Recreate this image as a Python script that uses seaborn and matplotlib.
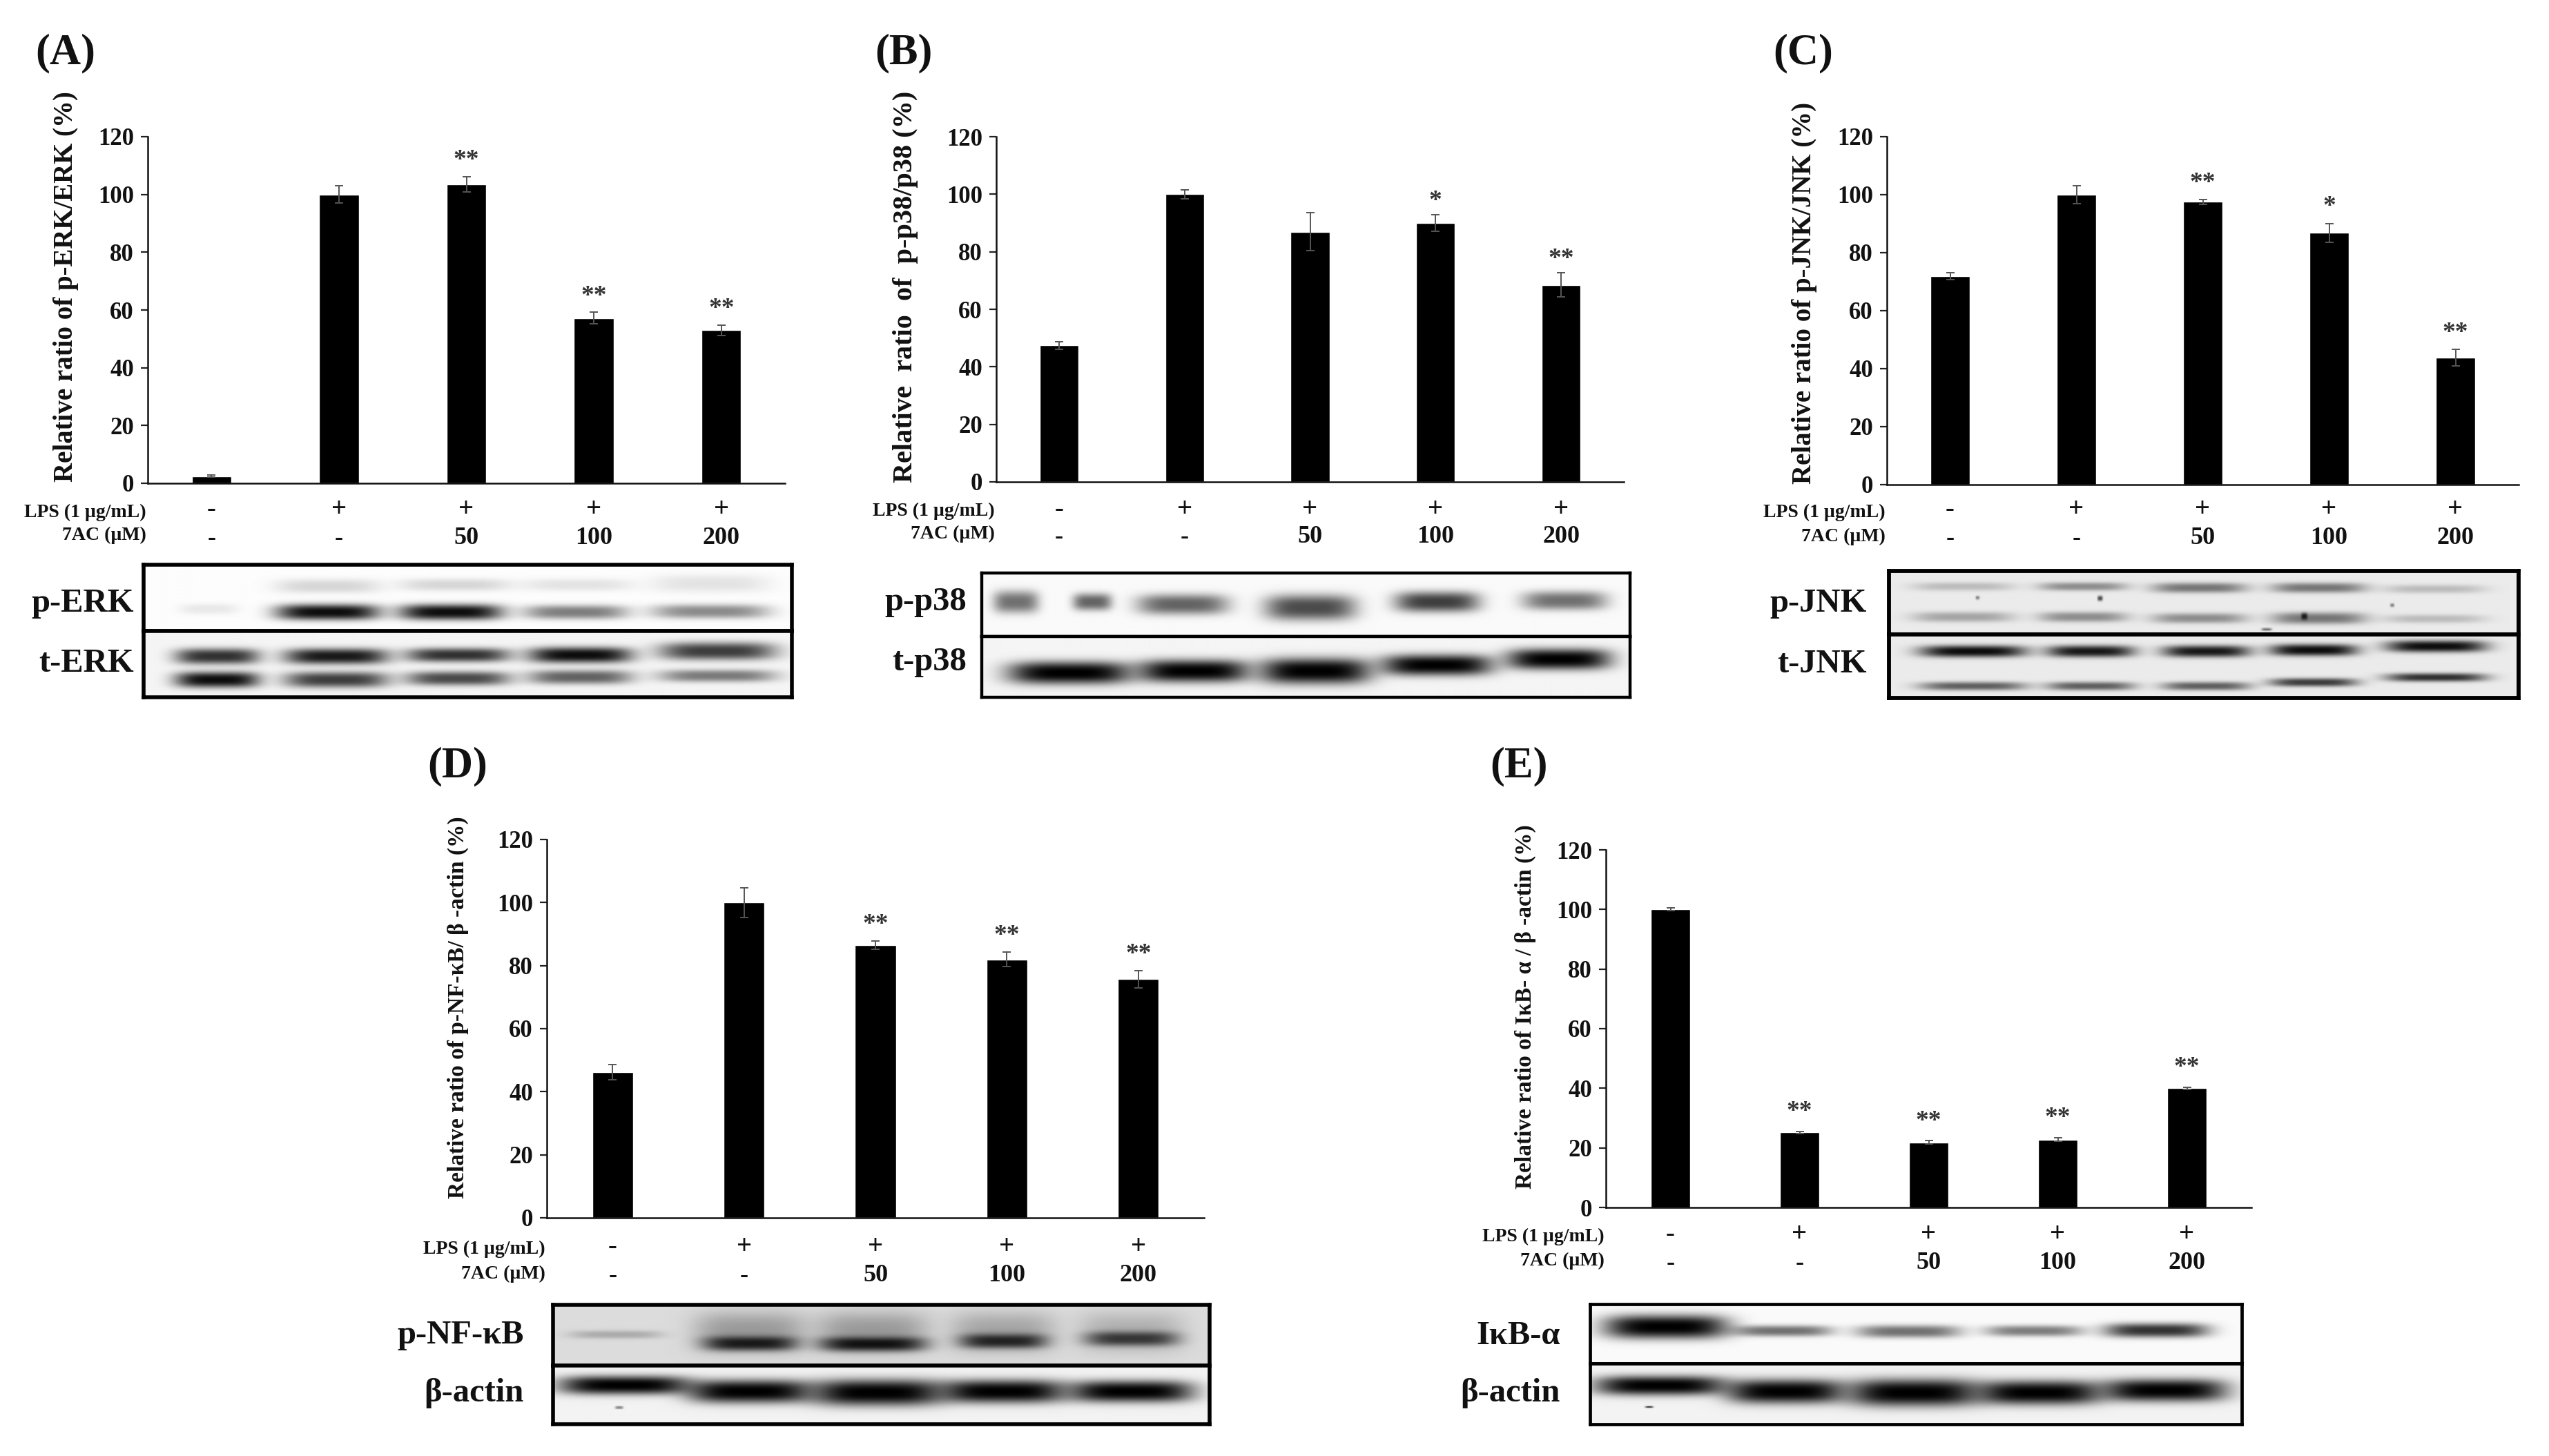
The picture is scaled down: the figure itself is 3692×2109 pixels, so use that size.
import numpy as np
import pandas as pd
import matplotlib
matplotlib.use("Agg")
import matplotlib.pyplot as plt
import seaborn as sns

# chart values
groups = ["control", "LPS", "7AC 50", "7AC 100", "7AC 200"]
lps_row = ["-", "+", "+", "+", "+"]
ac_row = ["-", "-", "50", "100", "200"]
y_ticks = [0, 20, 40, 60, 80, 100, 120]

erk_vals = [2.5, 100, 103.5, 57.2, 53]
erk_err = [0.3, 3, 2.7, 2, 1.8]
erk_stars = ["", "", "**", "**", "**"]

p38_vals = [47.5, 100, 87, 90, 68.5]
p38_err = [1.3, 1.5, 6.5, 2.8, 4.2]
p38_stars = ["", "", "", "*", "**"]

jnk_vals = [72, 100, 97.5, 86.8, 43.8]
jnk_err = [1.2, 3, 0.8, 3.2, 2.8]
jnk_stars = ["", "", "**", "*", "**"]

nfkb_vals = [46.3, 100, 86.5, 82, 75.7]
nfkb_err = [2.4, 4.7, 1.4, 2.4, 2.8]
nfkb_stars = ["", "", "**", "**", "**"]

ikb_vals = [100, 25.2, 21.8, 22.8, 40]
ikb_err = [0.5, 0.3, 0.6, 0.6, 0.4]
ikb_stars = ["", "**", "**", "**", "**"]

# blot bands: lane x, y, half width, half height, darkness (fractions of the strip)
p_erk = [(0.10, 0.67, 0.045, 0.06, 0.08), (0.284, 0.72, 0.08, 0.09, 0.95), (0.474, 0.72, 0.08, 0.09, 0.95),
         (0.667, 0.72, 0.08, 0.08, 0.5), (0.875, 0.71, 0.09, 0.08, 0.45), (0.284, 0.32, 0.08, 0.08, 0.15),
         (0.48, 0.30, 0.085, 0.07, 0.15), (0.67, 0.30, 0.085, 0.07, 0.1), (0.875, 0.28, 0.09, 0.1, 0.1)]
t_erk = [(0.113, 0.38, 0.065, 0.09, 0.8), (0.297, 0.38, 0.08, 0.09, 0.9), (0.485, 0.36, 0.08, 0.08, 0.8),
         (0.674, 0.36, 0.08, 0.09, 0.95), (0.886, 0.30, 0.09, 0.1, 0.75), (0.113, 0.74, 0.065, 0.09, 0.95),
         (0.297, 0.74, 0.08, 0.09, 0.75), (0.485, 0.72, 0.08, 0.08, 0.7), (0.674, 0.70, 0.08, 0.08, 0.6),
         (0.886, 0.68, 0.09, 0.07, 0.5)]
p_p38 = [(0.052, 0.46, 0.035, 0.13, 0.55), (0.17, 0.46, 0.03, 0.10, 0.6), (0.31, 0.50, 0.07, 0.12, 0.6),
         (0.507, 0.55, 0.07, 0.15, 0.7), (0.703, 0.46, 0.065, 0.12, 0.75), (0.90, 0.44, 0.065, 0.11, 0.55)]
t_p38 = [(0.135, 0.60, 0.095, 0.14, 1), (0.327, 0.57, 0.085, 0.14, 1), (0.515, 0.57, 0.085, 0.16, 1),
         (0.703, 0.47, 0.085, 0.13, 1), (0.891, 0.37, 0.08, 0.13, 1)]
p_jnk = [(0.117, 0.24, 0.08, 0.05, 0.2), (0.308, 0.24, 0.07, 0.05, 0.4), (0.493, 0.26, 0.075, 0.06, 0.5),
         (0.683, 0.26, 0.075, 0.06, 0.5), (0.867, 0.28, 0.08, 0.05, 0.2), (0.117, 0.73, 0.08, 0.06, 0.3),
         (0.308, 0.73, 0.07, 0.06, 0.4), (0.493, 0.75, 0.075, 0.06, 0.4), (0.683, 0.75, 0.075, 0.07, 0.5),
         (0.867, 0.76, 0.08, 0.05, 0.2), (0.14, 0.42, 0.003, 0.02, 0.5), (0.335, 0.43, 0.004, 0.03, 0.7),
         (0.66, 0.72, 0.005, 0.04, 0.8), (0.80, 0.54, 0.003, 0.02, 0.5), (0.60, 0.93, 0.008, 0.015, 0.6)]
t_jnk = [(0.133, 0.26, 0.085, 0.07, 0.95), (0.32, 0.26, 0.07, 0.07, 0.9), (0.504, 0.26, 0.07, 0.07, 0.9),
         (0.675, 0.24, 0.07, 0.07, 0.95), (0.87, 0.18, 0.08, 0.07, 0.95), (0.133, 0.82, 0.085, 0.05, 0.6),
         (0.32, 0.82, 0.07, 0.05, 0.6), (0.504, 0.82, 0.07, 0.05, 0.6), (0.675, 0.76, 0.07, 0.05, 0.75),
         (0.87, 0.68, 0.08, 0.05, 0.8)]
p_nfkb = [(0.095, 0.49, 0.07, 0.05, 0.22), (0.30, 0.64, 0.07, 0.09, 0.85), (0.487, 0.65, 0.08, 0.09, 0.9),
          (0.686, 0.60, 0.065, 0.09, 0.8), (0.882, 0.56, 0.07, 0.09, 0.7), (0.30, 0.45, 0.085, 0.25, 0.3),
          (0.487, 0.45, 0.085, 0.25, 0.3), (0.686, 0.45, 0.08, 0.25, 0.25), (0.882, 0.45, 0.08, 0.25, 0.2)]
actin_d = [(0.108, 0.33, 0.10, 0.12, 1), (0.30, 0.44, 0.095, 0.15, 1), (0.495, 0.46, 0.10, 0.17, 1),
           (0.686, 0.44, 0.095, 0.15, 1), (0.882, 0.44, 0.095, 0.14, 1), (0.10, 0.72, 0.006, 0.01, 0.9)]
ikb = [(0.116, 0.38, 0.095, 0.15, 1), (0.296, 0.45, 0.075, 0.07, 0.55), (0.489, 0.46, 0.08, 0.08, 0.55),
       (0.682, 0.45, 0.075, 0.07, 0.5), (0.87, 0.44, 0.08, 0.09, 0.8)]
actin_e = [(0.107, 0.36, 0.10, 0.12, 1), (0.30, 0.46, 0.09, 0.15, 1), (0.497, 0.48, 0.10, 0.17, 1),
           (0.69, 0.48, 0.095, 0.15, 1), (0.883, 0.44, 0.095, 0.14, 1), (0.09, 0.72, 0.006, 0.01, 0.9)]

W, H = 3692, 2109
TEXT = "#111111"

panels = [
    dict(tag="(A)", tag_xy=(51, 77), vals=erk_vals, err=erk_err, stars=erk_stars, ylabel="Relative ratio of p-ERK/ERK (%)",
         ylab_x=96, ylab_y=415, ylab_fs=28, box=(214, 198, 1137, 700), row_y=(739, 780), lab_y=(742, 775), star_off=27,
         blot=(208, 818, 914, 1010, 1147), lab_x=194, names=("p-ERK", "t-ERK"), lab_ys=(874, 961),
         strips=(p_erk, t_erk), bg=(0.01, 0.04), frame_lw=4.0),
    dict(tag="(B)", tag_xy=(1267, 77), vals=p38_vals, err=p38_err, stars=p38_stars, ylabel="Relative  ratio  of  p-p38/p38 (%)",
         ylab_x=1312, ylab_y=415, ylab_fs=29, box=(1443, 198, 2352, 698), row_y=(738, 778), lab_y=(740, 773), star_off=24,
         blot=(1422, 830, 922, 1010, 2361), lab_x=1400, names=("p-p38", "t-p38"), lab_ys=(872, 959),
         strips=(p_p38, t_p38), bg=(0.02, 0.04), frame_lw=3.2),
    dict(tag="(C)", tag_xy=(2568, 77), vals=jnk_vals, err=jnk_err, stars=jnk_stars, ylabel="Relative ratio of p-JNK/JNK (%)",
         ylab_x=2613, ylab_y=424, ylab_fs=28, box=(2733, 198, 3648, 702), row_y=(739, 780), lab_y=(742, 777), star_off=28,
         blot=(2736, 827, 919, 1011, 3648), lab_x=2704, names=("p-JNK", "t-JNK"), lab_ys=(874, 962),
         strips=(p_jnk, t_jnk), bg=(0.08, 0.08), frame_lw=4.2),
    dict(tag="(D)", tag_xy=(619, 1110), vals=nfkb_vals, err=nfkb_err, stars=nfkb_stars, ylabel="Relative ratio of p-NF-κB/ β -actin (%)",
         ylab_x=663, ylab_y=1459, ylab_fs=24, box=(792, 1216, 1744, 1764), row_y=(1806, 1848), lab_y=(1809, 1845), star_off=27,
         blot=(801, 1890, 1978, 2063, 1752), lab_x=759, names=("p-NF-κB", "β-actin"), lab_ys=(1934, 2018),
         strips=(p_nfkb, actin_d), bg=(0.14, 0.05), frame_lw=4.0),
    dict(tag="(E)", tag_xy=(2158, 1110), vals=ikb_vals, err=ikb_err, stars=ikb_stars, ylabel="Relative ratio of IκB- α / β -actin (%)",
         ylab_x=2209, ylab_y=1458, ylab_fs=24, box=(2326, 1231, 3261, 1749), row_y=(1788, 1830), lab_y=(1791, 1826), star_off=32,
         blot=(2303, 1889, 1975, 2063, 3247), lab_x=2260, names=("IκB-α", "β-actin"), lab_ys=(1935, 2018),
         strips=(ikb, actin_e), bg=(0.02, 0.05), frame_lw=3.4),
]


def px_axes(fig, left, top, right, bottom):
    return fig.add_axes([left / W, 1 - bottom / H, (right - left) / W, (bottom - top) / H])


def ftext(fig, x, y, s, **kw):
    return fig.text(x / W, 1 - y / H, s, color=TEXT, fontweight="bold", **kw)


def blot_image(bands, bg, nx, ny):
    xx, yy = np.meshgrid(np.linspace(0, 1, nx), np.linspace(0, 1, ny))
    light = np.full((ny, nx), 1.0 - bg)
    for xc, yc, hw, hh, dark in bands:
        # bands look thicker than the gaussian half height alone
        shape = np.exp(-np.abs((xx - xc) / hw) ** 4) * np.exp(-np.abs((yy - yc) / (hh * 1.35)) ** 2.6)
        light *= 1 - dark * shape
    return light


sns.set_theme(style="ticks")
plt.rcParams["font.family"] = ["Liberation Serif", "DejaVu Serif"]

fig = plt.figure(figsize=(W / 100, H / 100), dpi=100, facecolor="white")

for p in panels:
    left, top, right, bottom = p["box"]
    ax = px_axes(fig, left, top, right, bottom)
    df = pd.DataFrame({"group": groups, "value": p["vals"]})
    sns.barplot(data=df, x="group", y="value", color="black", saturation=1, width=0.31, ax=ax)
    ax.errorbar(range(len(groups)), p["vals"], yerr=p["err"], fmt="none", ecolor="#555555",
                elinewidth=1.4, capsize=4, capthick=1.4)
    ax.set_ylim(0, 120)
    ax.set_xlim(-0.5, 4.5)
    ax.set_yticks(y_ticks)
    ax.set_xlabel("")
    ax.set_ylabel("")
    ax.set_xticks(range(len(groups)))
    ax.set_xticklabels([])
    ax.tick_params(axis="x", length=0)
    ax.tick_params(axis="y", length=7, width=1.6, color="#222222", pad=7.5)
    for lab in ax.get_yticklabels():
        lab.set_fontsize(25)
        lab.set_fontweight("bold")
        lab.set_color(TEXT)
    sns.despine(ax=ax)
    for side in ("left", "bottom"):
        ax.spines[side].set_linewidth(1.8)
        ax.spines[side].set_color("#111111")

    for i, s in enumerate(p["stars"]):
        if s:
            ax.annotate(s, (i, p["vals"][i] + p["err"][i]), xytext=(0, p["star_off"] * 0.72),
                        textcoords="offset points", ha="center", va="center_baseline", fontsize=27,
                        fontweight="bold", color="#333333")

    # row of treatment labels under the axis
    step = (right - left) / len(groups)
    for i in range(len(groups)):
        cx = left + step * (i + 0.5)
        ftext(fig, cx, p["row_y"][0], lps_row[i], ha="center", va="center", fontsize=28)
        ftext(fig, cx, p["row_y"][1], ac_row[i], ha="center", va="center", fontsize=26)
    ftext(fig, left - 2, p["lab_y"][0], "LPS (1 µg/mL)", ha="right", va="center", fontsize=20)
    ftext(fig, left - 2, p["lab_y"][1], "7AC (µM)", ha="right", va="center", fontsize=20)

    ftext(fig, p["ylab_x"], p["ylab_y"], p["ylabel"], rotation=90, ha="center", va="center", fontsize=p["ylab_fs"])
    ftext(fig, p["tag_xy"][0], p["tag_xy"][1], p["tag"], ha="left", va="center", fontsize=45)

    # the two western blot strips
    b_left, b_top, b_mid, b_bot, b_right = p["blot"]
    for k, (y0, y1) in enumerate([(b_top, b_mid), (b_mid, b_bot)]):
        bx = px_axes(fig, b_left, y0, b_right, y1)
        img = blot_image(p["strips"][k], p["bg"][k], (b_right - b_left) // 2, (y1 - y0) // 2)
        bx.imshow(img, cmap="gray", vmin=0, vmax=1, aspect="auto", interpolation="bilinear")
        bx.set_xticks([])
        bx.set_yticks([])
        for sp in bx.spines.values():
            sp.set_visible(True)
            sp.set_linewidth(p["frame_lw"])
            sp.set_color("black")
        ftext(fig, p["lab_x"], p["lab_ys"][k], p["names"][k], ha="right", va="center", fontsize=35)

fig.savefig("out.png", dpi=100)
